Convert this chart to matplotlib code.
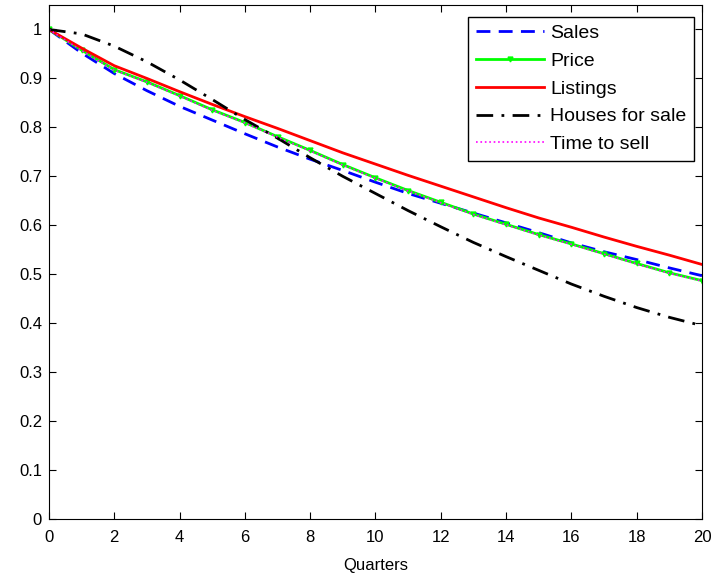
#!/usr/bin/env python3

import numpy as np
import matplotlib
matplotlib.use("Agg")
import matplotlib.pyplot as plt

plt.rcParams['font.family'] = ['Liberation Sans', 'DejaVu Sans']

quarters = np.arange(0, 21)

sales = [1.0, 0.952, 0.91, 0.875, 0.843, 0.815, 0.787, 0.76, 0.735, 0.712, 0.688,
         0.665, 0.645, 0.625, 0.605, 0.585, 0.564, 0.546, 0.53, 0.513, 0.497]
price = [1.0, 0.958, 0.918, 0.893, 0.865, 0.836, 0.81, 0.781, 0.753, 0.724, 0.697,
         0.671, 0.647, 0.623, 0.602, 0.581, 0.562, 0.542, 0.522, 0.503, 0.487]
listings = [1.0, 0.962, 0.926, 0.9, 0.873, 0.847, 0.822, 0.798, 0.773, 0.748, 0.725,
            0.702, 0.68, 0.658, 0.636, 0.615, 0.596, 0.576, 0.557, 0.539, 0.52]
houses = [1.0, 0.991, 0.966, 0.934, 0.897, 0.857, 0.816, 0.778, 0.738, 0.70, 0.665,
          0.63, 0.597, 0.565, 0.536, 0.508, 0.48, 0.455, 0.432, 0.412, 0.395]
time_to_sell = [1.0, 0.957, 0.917, 0.892, 0.864, 0.835, 0.809, 0.78, 0.752, 0.723, 0.696,
                0.67, 0.646, 0.622, 0.601, 0.58, 0.561, 0.541, 0.521, 0.502, 0.486]

fig = plt.figure(figsize=(7.11, 5.77), dpi=100)
ax = fig.add_axes([0.0689, 0.1005, 0.9184, 0.8908])

ax.plot(quarters, sales, color='#0000ff', ls=(0, (5, 3)), lw=2, label='Sales')
ax.plot(quarters, price, color='#00ff00', lw=2, marker='v', ms=3.5, label='Price')
ax.plot(quarters, listings, color='#ff0000', lw=2, label='Listings')
ax.plot(quarters, houses, color='black', ls=(0, (6, 3, 1, 3)), lw=2, label='Houses for sale')
ax.plot(quarters, time_to_sell, color='#ff00ff', ls=':', lw=1.2, label='Time to sell')

ax.set_xlim(0, 20)
ax.set_ylim(0, 1.05)
ax.set_xticks(np.arange(0, 21, 2))
ax.set_yticks(np.arange(0, 1.01, 0.1))
ax.set_yticklabels(['0', '0.1', '0.2', '0.3', '0.4', '0.5', '0.6', '0.7', '0.8', '0.9', '1'])
ax.tick_params(direction='in', top=True, right=True, labelsize=12, length=5)
ax.tick_params(axis='x', pad=8)
ax.tick_params(axis='y', pad=5)
ax.set_xlabel('Quarters', fontsize=12, labelpad=9)

leg = ax.legend(loc='upper right', bbox_to_anchor=(0.988, 0.977), borderaxespad=0,
                fontsize=14, fancybox=False, framealpha=1, edgecolor='black',
                handlelength=3.5, labelspacing=0.52, handletextpad=0.3,
                borderpad=0.4)
leg.get_frame().set_linewidth(1.0)

fig.savefig('out.png', dpi=100)
